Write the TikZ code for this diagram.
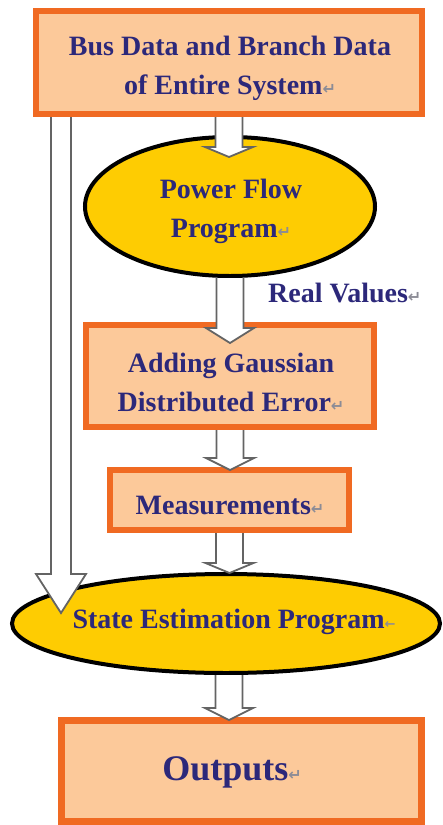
\documentclass[tikz,border=0pt]{standalone}
\usepackage{fontspec}
\setmainfont{Liberation Serif}
\newfontfamily\markfont{DejaVu Sans}
\usetikzlibrary{shapes.geometric,calc}

\definecolor{peach}{RGB}{252,201,154}
\definecolor{boxedge}{RGB}{240,106,34}
\definecolor{gold}{RGB}{254,204,2}
\definecolor{ink}{RGB}{44,40,122}
\definecolor{arrowedge}{RGB}{100,100,100}
\definecolor{markgray}{RGB}{140,140,150}

% paragraph marks printed after the labels
\newcommand\pmark{{\markfont\fontsize{16}{16}\selectfont\color{markgray}↵}}
\newcommand\pmarkleft{{\markfont\fontsize{13}{13}\selectfont\color{markgray}←}}

% hollow block arrow: #1 start, #2 tip, #3 half shaft, #4 half head, #5 head length
\newcommand\blockarrow[5]{%
  \draw[barrow] let \p1=(#1), \p2=(#2) in
    (\x1-#3,\y1) -- (\x1-#3,\y2+#5) -- (\x1-#4,\y2+#5) -- (\x1,\y2)
    -- (\x1+#4,\y2+#5) -- (\x1+#3,\y2+#5) -- (\x1+#3,\y1);}

\begin{document}
\begin{tikzpicture}[x=1pt,y=-1pt,
  box/.style={draw=boxedge,fill=peach,line width=6pt,rectangle,inner sep=0pt},
  oval/.style={draw=black,fill=gold,line width=4pt,ellipse,inner sep=0pt},
  labeltext/.style={font=\bfseries\fontsize{28}{39}\selectfont,text=ink,align=center,inner sep=0pt},
  barrow/.style={draw=arrowedge,fill=white,line width=1.8pt,line join=miter}]

\useasboundingbox (0,0) rectangle (442,825);

% shapes
\node[box,minimum width=386,minimum height=103] (bus) at (229,62.5) {};
\node[oval,minimum width=290,minimum height=139] (pf) at (230,206.5) {};
\node[box,minimum width=288,minimum height=102] (gauss) at (230,376) {};
\node[box,minimum width=239,minimum height=60] (meas) at (229.5,500) {};
\node[oval,minimum width=428,minimum height=99] (se) at (226,623.5) {};
\node[box,line width=7pt,minimum width=360,minimum height=101] (out) at (241.5,771) {};

% labels
\node[labeltext] (bus-t) at (230,68) {Bus Data and Branch Data\\of Entire System\pmark};
\node[labeltext] (pf-t) at (231,211) {Power Flow\\Program\pmark};
\node[labeltext] (gauss-t) at (231,382) {Adding Gaussian\\Distributed Error\pmark};
\node[labeltext] (meas-t) at (230,505) {Measurements\pmark};
\node[labeltext] (se-t) at (234,622) {State Estimation Program\pmarkleft};
\node[labeltext,font=\bfseries\fontsize{36}{40}\selectfont] (out-t) at (232,772) {Outputs\pmark};
\node[labeltext,anchor=west] (rv) at (268,293) {Real Values\pmark};

% tips of the block arrows
\coordinate (t1) at ($(pf.north)+(0,22)$);
\coordinate (t2) at ($(gauss.north)+(0,21)$);
\coordinate (t3) at ($(meas.north)+(0,3)$);
\coordinate (t4) at ($(se.north)+(0,1)$);
\coordinate (t5) at ($(out.north)+(0,3)$);
\coordinate (s5) at ($(se.south)+(3,0)$);
\coordinate (s0) at ($(bus.south west)+(28,0)$);
\coordinate (t0) at (61,613);

% block arrows
\blockarrow{bus.south}{t1}{13.5pt}{24pt}{10pt}
\blockarrow{pf.south}{t2}{13.5pt}{24pt}{15pt}
\blockarrow{gauss.south}{t3}{13.5pt}{24pt}{12pt}
\blockarrow{meas.south}{t4}{13.5pt}{24pt}{10pt}
\blockarrow{s5}{t5}{13.5pt}{24pt}{12pt}
\blockarrow{s0}{t0}{10pt}{25pt}{39pt}

\end{tikzpicture}
\end{document}
